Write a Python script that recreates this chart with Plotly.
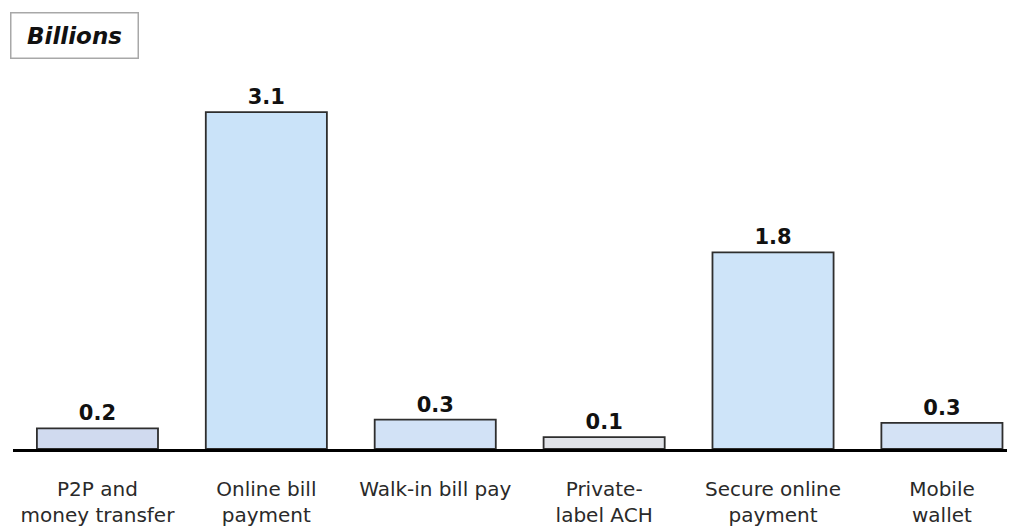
import plotly.graph_objects as go

categories = [
    "P2P and<br>money transfer",
    "Online bill<br>payment",
    "Walk-in bill pay",
    "Private-<br>label ACH",
    "Secure online<br>payment",
    "Mobile<br>wallet",
]
values = [0.19, 3.1, 0.27, 0.11, 1.81, 0.24]
value_labels = ["0.2", "3.1", "0.3", "0.1", "1.8", "0.3"]
bar_colors = ["#d0daef", "#cae3f9", "#d2e2f6", "#e0e2e7", "#cee4f9", "#d4e2f5"]

# page has an 8px body margin, so margins below are offset to match the shot
fig = go.Figure()

fig.add_trace(go.Bar(
    x=categories,
    y=values,
    text=value_labels,
    textposition="outside",
    textfont=dict(family="DejaVu Sans", size=21, color="#111"),
    texttemplate="<b>%{text}</b>",
    cliponaxis=False,
    marker=dict(color=bar_colors, line=dict(color="#2e2e2e", width=1.8)),
    hovertemplate="%{x}: %{y}<extra></extra>",
))

fig.add_annotation(
    text="<b><i>Billions</i></b>",
    xref="paper", yref="paper",
    x=-0.003, y=1.0, xanchor="left", yanchor="top",
    yshift=48,
    showarrow=False,
    font=dict(family="DejaVu Sans", size=23, color="#111"),
    bordercolor="#a8a8a8", borderwidth=1.5, borderpad=1,
    bgcolor="white",
    width=124, height=42,
)

fig.update_layout(
    width=1015,
    height=529,
    margin=dict(l=5, r=0, t=52, b=88),
    paper_bgcolor="white",
    plot_bgcolor="white",
    bargap=0.283,
    showlegend=False,
    xaxis=dict(
        range=[-0.5, 5.48],
        showline=True,
        linecolor="#000",
        linewidth=3,
        ticks="outside",
        ticklen=20,
        tickcolor="rgba(0,0,0,0)",
        tickfont=dict(family="DejaVu Sans", size=20, color="#2a2a2a"),
        showgrid=False,
    ),
    yaxis=dict(
        range=[0, 3.58],
        visible=False,
        showgrid=False,
        zeroline=False,
    ),
)

fig.write_html("out.html")
